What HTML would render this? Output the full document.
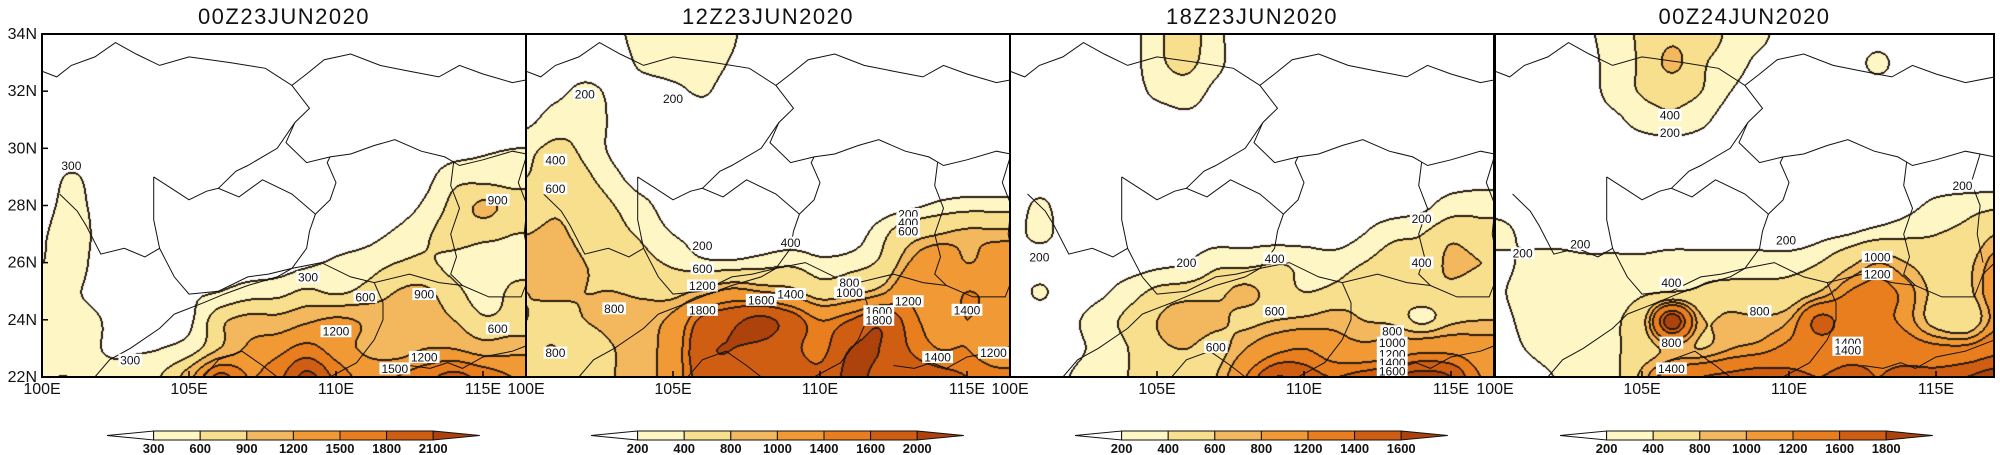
<!DOCTYPE html>
<html><head><meta charset="utf-8">
<style>
html,body{margin:0;padding:0;background:#fff;}
#root{position:relative;width:2000px;height:455px;overflow:hidden;font-family:"Liberation Sans",sans-serif;}
canvas{position:absolute;}
svg{position:absolute;left:0;top:0;}
</style></head>
<body>
<div id="root">
<svg id="svg" width="2000" height="455"></svg>
</div>
<script>
// ---- data ----
const titles = ["00Z23JUN2020","12Z23JUN2020","18Z23JUN2020","00Z24JUN2020"];
const latRows = [34,33,32,31,30,29,28,27,26,25,24,23,22];
const p1Levels = [300,600,900,1200,1500,1800,2100];
const p2Levels = [200,400,800,1000,1400,1600,2000];
const p3Levels = [200,400,600,800,1200,1400,1600];
const p4Levels = [200,400,800,1000,1200,1600,1800];
const p1Lons = [100,101,102,103,104,105,106,107,108,109,110,111,112,113,114,115,116];
const p4Lons = [100,101,102,103,104,105,106,107,108,109,110,111,112,113,114,115,116,117];
const p1Grid = [
[100,100,100,100,100,100,100,100,100,100,100,100,100,100,100,100,100],
[100,100,100,100,100,100,100,100,100,100,100,100,100,100,100,100,100],
[100,100,100,100,100,100,100,100,100,100,100,100,100,100,100,100,100],
[100,100,100,100,100,100,100,100,100,100,100,100,100,100,100,100,100],
[100,100,100,100,100,100,100,100,100,100,100,100,100,100,150,250,300],
[150,330,150,100,100,100,100,100,100,100,100,100,100,200,500,500,450],
[220,380,200,100,100,100,100,100,100,100,100,100,150,350,700,950,800],
[280,420,220,100,100,100,100,100,100,100,150,200,350,550,750,700,600],
[300,380,220,150,100,100,100,100,150,250,350,450,600,650,500,350,500],
[350,320,250,200,200,250,300,450,500,650,550,700,900,950,700,450,650],
[350,350,300,200,200,250,800,1000,1000,1150,1250,1150,1000,1050,900,650,700],
[400,350,300,280,300,450,900,1250,1400,1600,1350,1150,1050,1200,1200,1050,1100],
[300,300,320,350,600,1100,1900,1500,1700,2200,1700,1400,1500,1700,1900,1700,1500]];
const p2Grid = [
[100,100,100,150,300,350,300,220,100,100,100,100,100,100,100,100,100],
[100,100,100,100,250,300,300,180,100,100,100,100,100,100,100,100,100],
[100,150,250,150,100,150,220,100,100,100,100,100,100,100,100,100,100],
[150,300,350,150,100,100,100,100,100,100,100,100,100,100,100,100,100],
[350,450,350,150,100,100,100,100,100,100,100,100,100,100,100,100,100],
[400,600,450,250,100,100,100,100,100,100,100,100,100,100,100,100,100],
[600,750,600,400,250,100,100,100,100,100,100,100,100,150,250,300,300],
[800,850,700,500,350,200,150,100,100,100,100,100,300,650,800,900,900],
[850,900,800,700,500,350,250,250,300,350,250,300,450,1000,1300,1000,1200],
[800,850,800,800,750,700,900,1100,1000,900,600,700,900,1300,1200,1400,1300],
[800,700,800,900,900,1100,1700,1900,2100,1800,1400,1600,1900,1500,1300,1400,1300],
[750,800,600,800,900,1200,1900,2000,1900,1700,1500,2000,2000,1600,1400,1400,1200],
[800,700,600,800,900,1200,1800,1900,1700,1800,1700,2100,1900,1800,1700,1600,1500]];
const p3Grid = [
[100,100,100,100,100,350,500,250,100,100,100,100,100,100,100,100,100],
[100,100,100,100,100,350,450,250,100,100,100,100,100,100,100,100,100],
[100,100,100,100,100,250,300,150,100,100,100,100,100,100,100,100,100],
[100,100,100,100,100,100,150,100,100,100,100,100,100,100,100,100,100],
[100,100,100,100,100,100,100,100,100,100,100,100,100,100,100,100,100],
[100,100,100,100,100,100,100,100,100,100,100,100,100,100,100,100,100],
[100,230,100,100,100,100,100,100,100,100,100,100,100,100,150,300,350],
[130,240,120,100,100,100,100,100,100,100,100,100,200,350,400,550,450],
[100,100,100,100,100,150,200,350,350,400,350,300,400,500,450,650,600],
[100,220,100,150,300,450,500,550,650,500,400,450,550,500,550,550,450],
[100,100,150,300,450,600,750,650,550,600,650,700,600,550,350,550,600],
[100,100,150,250,400,550,600,500,800,1100,1200,1000,900,1000,1100,1100,1000],
[100,100,200,300,400,450,500,600,1200,1600,1500,1400,1500,1600,1700,1600,1200]];
const p4Grid = [
[100,100,100,150,300,450,700,550,350,250,100,100,100,100,100,100,100,100],
[100,100,100,100,300,450,900,450,300,150,100,100,100,240,100,100,100,100],
[100,100,100,100,280,420,500,400,200,100,100,100,100,100,100,100,100,100],
[100,100,100,100,150,280,350,250,100,100,100,100,100,100,100,100,100,100],
[100,100,100,100,100,100,100,100,100,100,100,100,100,100,100,100,100,100],
[100,100,100,100,100,100,100,100,100,100,100,100,100,100,100,100,100,100],
[100,100,100,100,100,100,100,100,100,100,100,100,100,100,150,250,300,350],
[300,150,100,100,100,100,100,100,100,100,100,150,200,300,350,400,500,800],
[100,250,300,250,250,250,300,300,300,300,300,400,700,1000,800,600,700,1100],
[150,300,300,300,300,350,400,450,500,500,550,800,1200,1300,1100,700,700,1200],
[100,250,250,300,350,700,2000,850,900,850,1000,1700,1400,1300,1100,650,500,1100],
[100,200,250,300,350,600,900,800,1000,1100,1300,1400,1450,1500,1400,1300,1300,1500],
[150,150,200,250,300,900,1400,1600,1700,1800,1700,1600,1700,1600,1700,1700,1800,1900]];
const p1Labels = [["300",101,29.4],["300",103,22.6],["300",109.05,25.5],["600",111,24.8],["900",113,24.9],["1200",110,23.6],["1200",113,22.7],["1500",112,22.3],["600",115.5,23.7],["900",115.5,28.2]];
const p2Labels = [["200",102,31.9],["200",105,31.75],["400",101,29.6],["600",101,28.6],["800",103,24.4],["800",101,22.85],["200",106,26.6],["600",106,25.8],["1200",106,25.2],["1800",106,24.35],["1600",108,24.7],["1400",109,24.9],["400",109,26.7],["800",111,25.3],["1000",111,24.95],["1200",113,24.65],["1600",112,24.3],["1800",112,24.0],["1400",115,24.35],["1400",114,22.7],["200",113,27.7],["400",113,27.4],["600",113,27.1],["1200",115.9,22.85]];
const p3Labels = [["200",101,26.2],["200",106,26.0],["400",109,26.15],["600",109,24.3],["600",107,23.05],["200",114,27.55],["400",114,26.0],["800",113,23.6],["1000",113,23.2],["1200",113,22.8],["1400",113,22.5],["1600",113,22.2]];
const p4Labels = [["400",105.95,31.17],["200",105.95,30.55],["200",100.94,26.33],["200",102.9,26.65],["200",109.9,26.8],["200",115.9,28.7],["400",106,25.3],["800",109,24.3],["800",106,23.2],["1400",106,22.3],["1400",112,23.2],["1400",112,22.95],["1000",113,26.2],["1200",113,25.6]];
const lonTicks = [100,105,110,115];
const latTicks = [34,32,30,28,26,24,22];
const borders = [
[[100,32.7],[100.5,32.5],[101,32.9],[101.8,33.2],[102.5,33.7],[103.2,33.3],[104,32.9],[105,33.2],[106.4,33.0],[107.6,32.8],[108.5,32.2],[109,32.6],[109.6,33.1],[110.5,33.3],[111.5,32.9],[112.5,32.7],[113.5,32.5],[114.2,32.9],[115,32.6],[116,32.3],[117,32.5]],
[[108.5,32.2],[109.1,31.4],[108.6,30.9],[108.3,30.2],[109,29.5],[109.8,29.7],[110.5,29.8],[111.3,30.1],[112,30.3],[112.9,29.9],[113.7,29.7],[114.2,29.4],[115,29.6],[116,29.9],[117,29.7]],
[[103.8,29],[104.4,28.6],[105,28.2],[105.6,28.5],[106,28.6],[106.7,28.3],[107.5,28.9],[108.5,28.4],[109.3,27.7],[109.1,27.1],[109,26.5],[108.5,25.8],[107.7,25.6],[107,25.5],[106,25],[105,24.9],[104.5,25.5],[104.2,26.1],[104,26.5],[103.8,27.5],[103.8,29]],
[[104.5,24.2],[105.5,24.6],[106.2,24.9],[107,25.2],[108,25.5],[108.5,25.8],[109.5,26],[110.5,25.5],[111.3,25.3],[112.5,25.6],[113.5,25.3],[114.3,25.2],[115.2,24.8],[116.3,24.8],[116.6,25.6],[117,26]],
[[111.3,25.3],[111.6,24.6],[111.6,24],[111.3,23.3],[110.7,22.5],[109.8,22]],
[[100.6,28.4],[101.2,27.8],[101.5,27.3],[102,26.3],[102.8,26.5],[103.5,26.2],[104,26.5]],
[[104.5,24.2],[104,23.7],[103,23],[102.3,22.6],[101.8,22]],
[[109.3,27.7],[109.8,28.2],[110,28.8],[109.7,29.5],[109.8,29.7]],
[[106,28.6],[106.6,29.2],[107,29.4],[108,30],[108.6,30.9]],
[[114,29.5],[113.9,28.7],[114.2,27.9],[113.9,27],[114.1,26.2],[113.9,25.6],[114.3,25.2]],
[[116.5,29.8],[116.2,28.8],[116.5,28],[116.4,27],[116.6,26]],
[[105.5,22],[106,22.6],[106.8,22.9],[107.5,22.4],[108,22]],
[[112.5,22.4],[113.2,22.3],[113.8,22.5],[114.3,22.3],[115,22.7],[116,22.9],[117,23.3]]
];
const palette = ['#ffffff','#fef6c4','#f8df8e','#f3b75e','#f19a35','#e97e1e','#d05e12','#ad420c'];

// ---- layout ----
const panels = [
 {left:42,w:484,grid:p1Grid,lons:p1Lons,levels:p1Levels,labels:p1Labels},
 {left:526,w:484,grid:p2Grid,lons:p1Lons,levels:p2Levels,labels:p2Labels},
 {left:1010,w:484,grid:p3Grid,lons:p1Lons,levels:p3Levels,labels:p3Labels},
 {left:1495,w:499,grid:p4Grid,lons:p4Lons,levels:p4Levels,labels:p4Labels}];
const TOP=34,H=343,PXLON=29.4,PXLAT=28.58;
const root=document.getElementById('root');
const svg=document.getElementById('svg');
const NS='http://www.w3.org/2000/svg';
function sx(p,lon){return p.left+(lon-100)*PXLON;}
function sy(lat){return TOP+(34-lat)*PXLAT;}
function cub(a,b,c,d,t){return b+0.5*t*(c-a+t*(2*a-5*b+4*c-d+t*(3*(b-c)+d-a)));}
function sample(p,lon,lat){
  const g=p.grid,nr=g.length,nc=g[0].length;
  const fx=lon-p.lons[0], fy=34-lat;
  const ix=Math.floor(fx), iy=Math.floor(fy), tx=fx-ix, ty=fy-iy;
  const cl=(v,n)=>Math.max(0,Math.min(n-1,v));
  const rows=[];
  for(let j=-1;j<=2;j++){
    const r=g[cl(iy+j,nr)];
    rows.push(cub(r[cl(ix-1,nc)],r[cl(ix,nc)],r[cl(ix+1,nc)],r[cl(ix+2,nc)],tx));
  }
  return cub(rows[0],rows[1],rows[2],rows[3],ty);
}
function hex(c){return [parseInt(c.substr(1,2),16),parseInt(c.substr(3,2),16),parseInt(c.substr(5,2),16)];}
const pal=palette.map(hex);

panels.forEach((p,pi)=>{
  const cv=document.createElement('canvas');
  cv.width=p.w;cv.height=H;cv.style.left=p.left+'px';cv.style.top=TOP+'px';
  
  
  root.insertBefore(cv,svg);
  const ctx=cv.getContext('2d');
  const img=ctx.createImageData(p.w,H);
  const idx=new Int8Array(p.w*H);
  for(let y=0;y<H;y++)for(let x=0;x<p.w;x++){
    const v=sample(p,100+x/PXLON,34-y/PXLAT);
    let k=0;while(k<p.levels.length&&v>=p.levels[k])k++;
    idx[y*p.w+x]=k;
  }
  const line=new Uint8Array(p.w*H);
  for(let y=0;y<H;y++)for(let x=0;x<p.w;x++){
    const i=y*p.w+x,k=idx[i];
    if(x<p.w-1&&idx[i+1]!==k){line[i]=1;line[i+1]=1;}
    if(y<H-1&&idx[i+p.w]!==k){line[i]=1;line[i+p.w]=1;}
  }
  for(let i=0;i<p.w*H;i++){
    const c=line[i]?[40,28,15]:pal[idx[i]];
    img.data[i*4]=c[0];img.data[i*4+1]=c[1];img.data[i*4+2]=c[2];img.data[i*4+3]=255;
  }
  ctx.putImageData(img,0,0);

  const cp=document.createElementNS(NS,'clipPath');cp.setAttribute('id','clip'+pi);
  const cr=document.createElementNS(NS,'rect');cr.setAttribute('x',p.left);cr.setAttribute('y',TOP);cr.setAttribute('width',p.w);cr.setAttribute('height',H);
  cp.appendChild(cr);svg.appendChild(cp);
  const g=document.createElementNS(NS,'g');g.setAttribute('clip-path','url(#clip'+pi+')');
  
  
  borders.forEach(b=>{
    const pl=document.createElementNS(NS,'polyline');
    pl.setAttribute('points',b.map(q=>sx(p,q[0]).toFixed(1)+','+sy(q[1]).toFixed(1)).join(' '));
    pl.setAttribute('fill','none');pl.setAttribute('stroke','#111');pl.setAttribute('stroke-width','1');
    
    
    g.appendChild(pl);
  });
  p.labels.forEach(l=>{
    const x=sx(p,l[1]),y=sy(l[2]);
    const w=l[0].length*7.2+2;
    const r=document.createElementNS(NS,'rect');
    r.setAttribute('x',x-w/2);r.setAttribute('y',y-6);r.setAttribute('width',w);r.setAttribute('height',12);r.setAttribute('fill','#fff');
    g.appendChild(r);
    const t=document.createElementNS(NS,'text');
    t.setAttribute('x',x);t.setAttribute('y',y+4.5);t.setAttribute('text-anchor','middle');
    t.setAttribute('font-size','12');t.setAttribute('fill','#111');t.textContent=l[0];
    
    
    g.appendChild(t);
  });
  svg.appendChild(g);
  const fr=document.createElementNS(NS,'rect');
  fr.setAttribute('x',p.left);fr.setAttribute('y',TOP);fr.setAttribute('width',p.w);fr.setAttribute('height',H);
  fr.setAttribute('fill','none');fr.setAttribute('stroke','#000');fr.setAttribute('stroke-width','2');
  
  
  svg.appendChild(fr);
  const tt=document.createElementNS(NS,'text');
  tt.setAttribute('x',p.left+p.w/2);tt.setAttribute('y',24);tt.setAttribute('text-anchor','middle');
  tt.setAttribute('font-size','22');tt.setAttribute('letter-spacing','1.5');tt.setAttribute('fill','#111');
  tt.textContent=titles[pi];
  
  
  svg.appendChild(tt);
  lonTicks.forEach(lon=>{
    const x=sx(p,lon);
    const tk=document.createElementNS(NS,'line');
    tk.setAttribute('x1',x);tk.setAttribute('x2',x);tk.setAttribute('y1',TOP+H);tk.setAttribute('y2',TOP+H-6);
    tk.setAttribute('stroke','#000');tk.setAttribute('stroke-width','1.5');
    svg.appendChild(tk);
    const t=document.createElementNS(NS,'text');
    t.setAttribute('x',x);t.setAttribute('y',TOP+H+17);t.setAttribute('text-anchor','middle');
    t.setAttribute('font-size','16');t.setAttribute('fill','#111');t.textContent=lon+'E';
    
    
    svg.appendChild(t);
  });
  const cbL=p.left+65,seg=46.6,cy=431,ch=9;
  const cg=document.createElementNS(NS,'g');
  
  
  const tl=document.createElementNS(NS,'polygon');
  tl.setAttribute('points',cbL+','+(cy+ch/2)+' '+(cbL+seg)+','+cy+' '+(cbL+seg)+','+(cy+ch));
  tl.setAttribute('fill',palette[0]);tl.setAttribute('stroke','#111');cg.appendChild(tl);
  for(let k=1;k<=6;k++){
    const r=document.createElementNS(NS,'rect');
    r.setAttribute('x',cbL+seg*k);r.setAttribute('y',cy);r.setAttribute('width',seg);r.setAttribute('height',ch);
    r.setAttribute('fill',palette[k]);r.setAttribute('stroke','#111');cg.appendChild(r);
  }
  const tr=document.createElementNS(NS,'polygon');
  tr.setAttribute('points',(cbL+seg*7)+','+cy+' '+(cbL+seg*8)+','+(cy+ch/2)+' '+(cbL+seg*7)+','+(cy+ch));
  tr.setAttribute('fill',palette[7]);tr.setAttribute('stroke','#111');cg.appendChild(tr);
  p.levels.forEach((lv,k)=>{
    const t=document.createElementNS(NS,'text');
    t.setAttribute('x',cbL+seg*(k+1));t.setAttribute('y',453);t.setAttribute('text-anchor','middle');
    t.setAttribute('font-size','13');t.setAttribute('font-weight','bold');t.setAttribute('fill','#111');t.textContent=lv;
    
    
    cg.appendChild(t);
  });
  svg.appendChild(cg);
});
latTicks.forEach(lat=>{
  const y=sy(lat);
  const tk=document.createElementNS(NS,'line');
  tk.setAttribute('x1',42);tk.setAttribute('x2',48);tk.setAttribute('y1',y);tk.setAttribute('y2',y);
  tk.setAttribute('stroke','#000');tk.setAttribute('stroke-width','1.5');
  svg.appendChild(tk);
  const t=document.createElementNS(NS,'text');
  t.setAttribute('x',37);t.setAttribute('y',y+5);t.setAttribute('text-anchor','end');
  t.setAttribute('font-size','16');t.setAttribute('fill','#111');t.textContent=lat+'N';
  
  
  svg.appendChild(t);
});
</script>
</body></html>
